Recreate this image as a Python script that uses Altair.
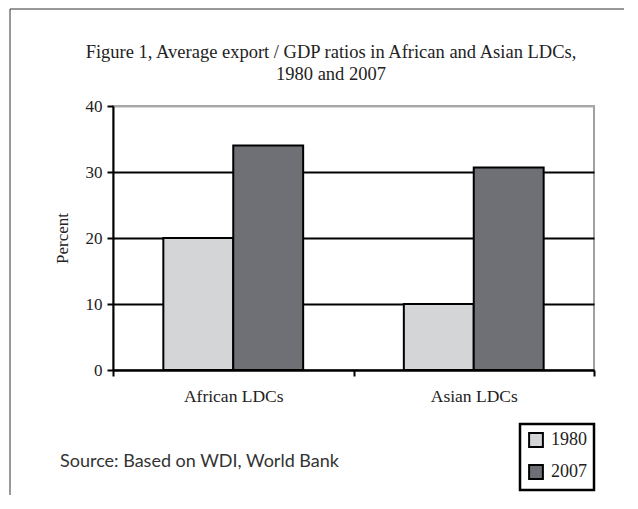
import altair as alt
import pandas as pd

categories = ["African LDCs", "Asian LDCs"]
years = ["1980", "2007"]
values_1980 = [20, 10]
values_2007 = [34, 30.7]
y_ticks = [0, 10, 20, 30, 40]

rows = []
for i, c in enumerate(categories):
    rows.append({"region": c, "year": "1980", "value": values_1980[i]})
    rows.append({"region": c, "year": "2007", "value": values_2007[i]})
df = pd.DataFrame(rows)

SERIF = "Liberation Serif"

bars = alt.Chart(df).mark_bar(stroke="black", strokeWidth=2).encode(
    x=alt.X("region:N", sort=categories, title=None,
            scale=alt.Scale(paddingInner=0, paddingOuter=0),
            axis=alt.Axis(labelAngle=0, tickBand="extent", domainColor="black",
                          domainWidth=2, tickColor="black", tickWidth=2, tickSize=6,
                          labelFont=SERIF, labelFontSize=17.5, labelColor="#222",
                          labelPadding=11, grid=False)),
    xOffset=alt.XOffset("year:N", sort=years,
                        scale=alt.Scale(paddingInner=0, paddingOuter=0.72)),
    y=alt.Y("value:Q", title="Percent",
            scale=alt.Scale(domain=[0, 40], nice=False),
            axis=alt.Axis(values=y_ticks, domainColor="black", domainWidth=2,
                          tickColor="black", tickWidth=2, tickSize=6,
                          labelFont=SERIF, labelFontSize=17, labelColor="#222",
                          labelPadding=5, titleFont=SERIF, titleFontSize=17,
                          titleFontWeight="normal", titleColor="#222",
                          titlePadding=14,
                          grid=True,
                          gridColor=alt.condition("datum.value === 40",
                                                  alt.value("#aaaaaa"),
                                                  alt.value("black")),
                          gridWidth=2)),
    color=alt.Color("year:N", sort=years,
                    scale=alt.Scale(domain=years, range=["#d4d5d7", "#6f7075"]),
                    legend=alt.Legend(title=None, orient="none", legendX=407,
                                      legendY=318, symbolType="square",
                                      symbolSize=190, symbolStrokeColor="black",
                                      symbolStrokeWidth=2, labelFont=SERIF,
                                      labelFontSize=18, labelColor="#222",
                                      labelOffset=6,
                                      rowPadding=10, padding=7,
                                      strokeColor="black")),
)

title1 = alt.Chart(pd.DataFrame({"t": ["Figure 1, Average export / GDP ratios in African and Asian LDCs,"]})).mark_text(
    font=SERIF, fontSize=18.5, color="#222", align="center", baseline="middle"
).encode(text="t:N", x=alt.value(218), y=alt.value(-54))

title2 = alt.Chart(pd.DataFrame({"t": ["1980 and 2007"]})).mark_text(
    font=SERIF, fontSize=18.5, color="#222", align="center", baseline="middle"
).encode(text="t:N", x=alt.value(218), y=alt.value(-32))

source = alt.Chart(pd.DataFrame({"t": ["Source: Based on WDI, World Bank"]})).mark_text(
    font="Lato", fontSize=18, color="#333", align="left", baseline="middle"
).encode(text="t:N", x=alt.value(-53), y=alt.value(356))

frame_top = alt.Chart(pd.DataFrame({"a": [0]})).mark_rule(color="#333", strokeWidth=1).encode(
    x=alt.value(-103), x2=alt.value(520), y=alt.value(-97))
frame_left = alt.Chart(pd.DataFrame({"a": [0]})).mark_rule(color="#333", strokeWidth=1).encode(
    x=alt.value(-103), y=alt.value(-97), y2=alt.value(400))

chart = alt.layer(bars, title1, title2, source, frame_top, frame_left).properties(
    width=481, height=264,
    autosize=alt.AutoSizeParams(type="none"),
    padding={"left": 105, "top": 98, "right": 30, "bottom": 125},
).configure_view(stroke="#a0a0a0", strokeWidth=2).configure_legend(strokeWidth=2.5)

chart.save("out.html", embed_options={"renderer": "svg", "actions": False})
